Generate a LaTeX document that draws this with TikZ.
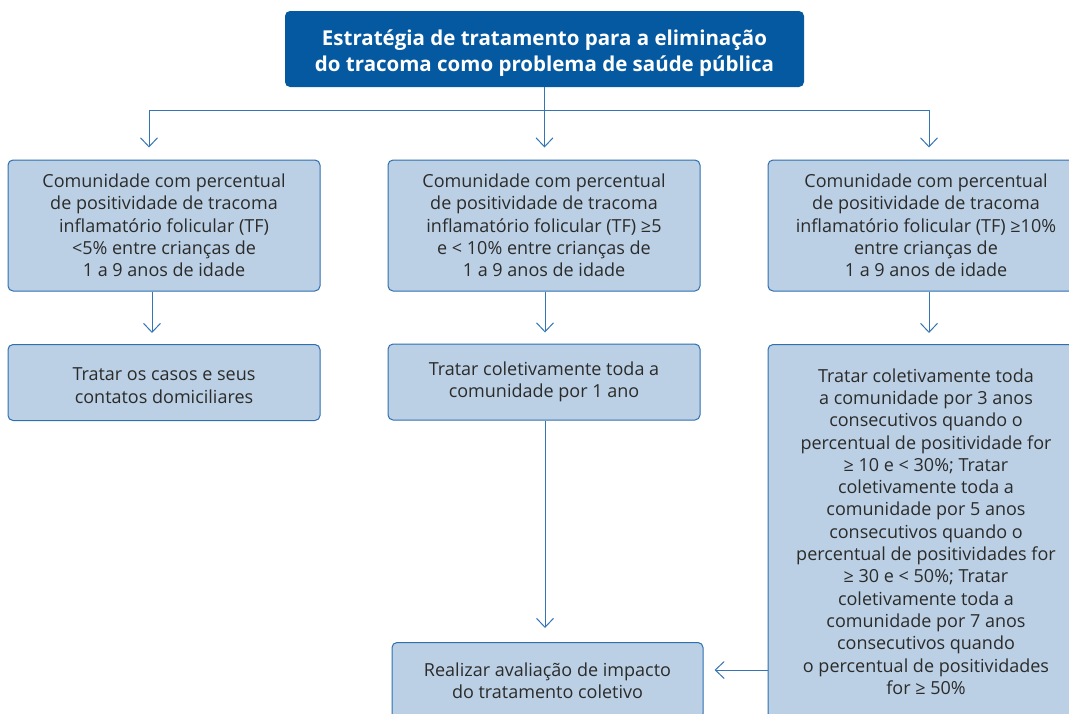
\documentclass[tikz,border=0pt]{standalone}
\usepackage{fontspec}
\setmainfont{Open Sans}
\usetikzlibrary{arrows.meta,calc}
\definecolor{dkblue}{HTML}{0559A0}
\definecolor{lblue}{HTML}{BBD0E4}
\definecolor{bord}{HTML}{2F6FB1}
\definecolor{lin}{HTML}{3575B5}
\definecolor{txt}{HTML}{2B2B2B}
\tikzset{
  box/.style={draw=bord, fill=lblue, line width=1pt, rounded corners=5pt, align=center,
    text=txt, font=\fontsize{18}{22.3}\selectfont, inner sep=0pt},
  titlebox/.style={fill=dkblue, rounded corners=5pt, inner sep=0pt},
  titletext/.style={align=center, text=white,
    font=\fontsize{20.5}{26}\selectfont\bfseries, inner sep=0pt},
  arr/.style={draw=lin, line width=1pt, -{Straight Barb[length=9pt,width=17pt,line width=1pt]}},
  ln/.style={draw=lin, line width=1pt}
}
\begin{document}
\begin{tikzpicture}[x=1pt,y=1pt]
\useasboundingbox (0,0) rectangle (1069,-713);
\node[titlebox, minimum width=519, minimum height=76] (t) at (544.5,-49) {};
\node[titletext] (tt) at (544.5,-53)
  {Estratégia de tratamento para a eliminação\\do tracoma como problema de saúde pública};
\node[box, minimum width=312, minimum height=131] (b1) at (164,-225.5)
  {Comunidade com percentual\\de positividade de tracoma\\inflamatório folicular (TF)\\<5\% entre crianças de\\1 a 9 anos de idade};
\node[box, minimum width=312, minimum height=131] (b2) at (544,-225.5)
  {Comunidade com percentual\\de positividade de tracoma\\inflamatório folicular (TF) ≥5\\e < 10\% entre crianças de\\1 a 9 anos de idade};
\node[box, minimum width=316, minimum height=131] (b3) at (926,-225.5)
  {Comunidade com percentual\\de positividade de tracoma\\inflamatório folicular (TF) ≥10\%\\entre crianças de\\1 a 9 anos de idade};
\node[box, minimum width=312, minimum height=76, anchor=north] (c1) at (164,-344)
  {\rule{0pt}{19pt}Tratar os casos e seus\\contatos domiciliares};
\node[box, minimum width=312, minimum height=76] (c2) at (544,-382)
  {Tratar coletivamente toda a\\comunidade por 1 ano};
\node[box, minimum width=316, minimum height=374, anchor=north] (c3) at (926,-344)
  {Tratar coletivamente toda\\a comunidade por 3 anos\\consecutivos quando o\\percentual de positividade for\\≥ 10 e < 30\%; Tratar\\coletivamente toda a\\comunidade por 5 anos\\consecutivos quando o\\percentual de positividades for\\≥ 30 e < 50\%; Tratar\\coletivamente toda a\\comunidade por 7 anos\\consecutivos quando\\o percentual de positividades\\for ≥ 50\%};
\node[box, minimum width=311, minimum height=76, anchor=north] (d) at (547.5,-642)
  {Realizar avaliação de impacto\\do tratamento coletivo};
% connectors
\coordinate (j) at (544.5,-110);
\coordinate (jl) at (149,-110);
\coordinate (jr) at (929,-110);
\draw[ln] (t.south) -- (j);
\draw[ln] (jl) -- (jr);
\draw[arr, shorten >=12pt] (jl) -- (jl |- b1.north);
\draw[arr, shorten >=12pt] (j) -- (j |- b2.north);
\draw[arr, shorten >=12pt] (jr) -- (jr |- b3.north);
\coordinate (x1) at (152,0);
\coordinate (x2) at (545,0);
\coordinate (x3) at (929,0);
\draw[arr, shorten >=11pt] (x1 |- b1.south) -- (x1 |- c1.north);
\draw[arr, shorten >=11pt] (x2 |- b2.south) -- (x2 |- c2.north);
\draw[arr, shorten >=11pt] (x3 |- b3.south) -- (x3 |- c3.north);
\draw[arr, shorten >=14pt] (x2 |- c2.south) -- (x2 |- d.north);
\coordinate (h) at (0,-670);
\draw[arr, shorten >=11pt] (h -| c3.west) -- (h -| d.east);
\end{tikzpicture}
\end{document}
